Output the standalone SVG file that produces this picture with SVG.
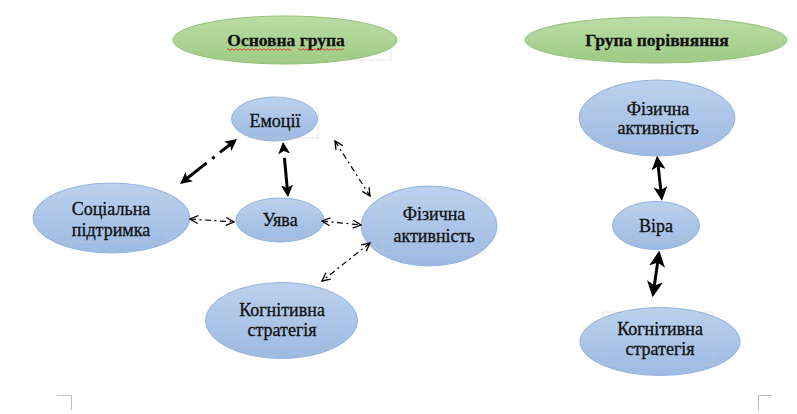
<svg xmlns="http://www.w3.org/2000/svg" width="797" height="414" viewBox="0 0 797 414">
<style>
.bl{fill:url(#gb);stroke:#93b3dd;stroke-width:1}
.gr{fill:url(#gg);stroke:#92c077;stroke-width:1}
.tb{fill:none;stroke:#cfc6b8;stroke-width:0.7;opacity:0.6}
.t{font-family:'Liberation Serif',serif;font-size:18px;fill:#111;stroke:#111;stroke-width:0.3;text-anchor:middle}
.h{font-weight:bold;font-size:17.5px}
.thick{fill:none;stroke:#000;stroke-width:3}
.thin{fill:none;stroke:#000;stroke-width:1.2;stroke-dasharray:6 3.5 2 3.5}
.corner{fill:none;stroke:#bdbdbd;stroke-width:1}
</style>
<defs>
<linearGradient id="gb" x1="0" y1="0" x2="0" y2="1">
<stop offset="0" stop-color="#bbd1ee"/>
<stop offset="1" stop-color="#9dbae2"/>
</linearGradient>
<linearGradient id="gg" x1="0" y1="0" x2="0" y2="1">
<stop offset="0" stop-color="#bcdca7"/>
<stop offset="1" stop-color="#9dcb82"/>
</linearGradient>
<marker id="ah12" viewBox="0 0 12 12" markerWidth="12" markerHeight="12" refX="6" refY="6" orient="auto-start-reverse" markerUnits="userSpaceOnUse">
<path d="M0,0 L12,6 L0,12 L3,6 z" fill="#000"/>
</marker>
<marker id="ah14" viewBox="0 0 14 14" markerWidth="14" markerHeight="14" refX="7" refY="7" orient="auto-start-reverse" markerUnits="userSpaceOnUse">
<path d="M0,0 L14,7 L0,14 L3.5,7 z" fill="#000"/>
</marker>
<marker id="ah16" viewBox="0 0 16 16" markerWidth="16" markerHeight="16" refX="8" refY="8" orient="auto-start-reverse" markerUnits="userSpaceOnUse">
<path d="M0,0 L16,8 L0,16 L4,8 z" fill="#000"/>
</marker>
<marker id="open" viewBox="0 0 10 10" markerWidth="10" markerHeight="10" refX="9" refY="5" orient="auto-start-reverse" markerUnits="userSpaceOnUse">
<path d="M1,1 L9,5 L1,9" fill="none" stroke="#000" stroke-width="1.3"/>
</marker>
</defs>
<rect width="797" height="414" fill="#fff"/>

<g id="title-main">
<ellipse class="gr" cx="285" cy="40" rx="112" ry="24"/>
<rect class="tb" x="208" y="27" width="183" height="33"/>
<text class="t h" x="286" y="46">Основна група</text>
<path d="M227,49.5 q1,-1.5 2,0 t2,0 t2,0 t2,0 t2,0 t2,0 t2,0 t2,0 t2,0 t2,0 t2,0 t2,0 t2,0 t2,0 t2,0 t2,0 t2,0 t2,0 t2,0 t2,0 t2,0 t2,0 t2,0 t2,0 t2,0 t2,0 t2,0 t2,0 t2,0 t2,0 t2,0 t2,0 M298,49.5 q1,-1.5 2,0 t2,0 t2,0 t2,0 t2,0 t2,0 t2,0 t2,0 t2,0 t2,0 t2,0 t2,0 t2,0 t2,0 t2,0 t2,0 t2,0 t2,0 t2,0 t2,0 t2,0 t2,0 t2,0" fill="none" stroke="#d9342b" stroke-width="0.9"/>
</g>

<g id="title-compare">
<ellipse class="gr" cx="656" cy="40" rx="131" ry="23"/>
<rect class="tb" x="568" y="28" width="180" height="32"/>
<text class="t h" x="657" y="46">Група порівняння</text>
</g>

<g id="emotions">
<ellipse class="bl" cx="274.5" cy="119" rx="43" ry="22"/>
<rect class="tb" x="248" y="108" width="70" height="30"/>
<text class="t" x="275" y="127">Емоції</text>
</g>

<g id="social">
<ellipse class="bl" cx="111.5" cy="218" rx="78.5" ry="35"/>
<rect class="tb" x="56" y="194" width="111" height="48"/>
<text class="t" x="111" y="215">Соціальна</text>
<text class="t" x="111" y="236">підтримка</text>
</g>

<g id="imagination">
<ellipse class="bl" cx="280" cy="220" rx="44" ry="22"/>
<rect class="tb" x="248" y="203" width="62" height="36"/>
<text class="t" x="280" y="226">Уява</text>
</g>

<g id="physical-main">
<ellipse class="bl" cx="429" cy="226" rx="68" ry="40"/>
<rect class="tb" x="383" y="198" width="102" height="55"/>
<text class="t" x="434" y="220">Фізична</text>
<text class="t" x="434" y="242">активність</text>
</g>

<g id="cognitive-main">
<ellipse class="bl" cx="281.5" cy="320.5" rx="76" ry="38"/>
<rect class="tb" x="229" y="293" width="105" height="55"/>
<text class="t" x="282" y="316">Когнітивна</text>
<text class="t" x="282" y="336">стратегія</text>
</g>

<g id="physical-compare">
<ellipse class="bl" cx="657" cy="118" rx="78" ry="38"/>
<rect class="tb" x="603" y="91" width="109" height="52"/>
<text class="t" x="658" y="115">Фізична</text>
<text class="t" x="658" y="134">активність</text>
</g>

<g id="faith">
<ellipse class="bl" cx="656" cy="225.5" rx="43.5" ry="24"/>
<rect class="tb" x="627" y="210" width="60" height="30"/>
<text class="t" x="656" y="232">Віра</text>
</g>

<g id="cognitive-compare">
<ellipse class="bl" cx="660" cy="341.5" rx="80" ry="34"/>
<rect class="tb" x="603" y="312" width="110" height="53"/>
<text class="t" x="660" y="335">Когнітивна</text>
<text class="t" x="660" y="355">стратегія</text>
</g>

<g id="connectors">
<path class="thick" d="M184.7,180.3 L232.3,142.7" stroke-dasharray="28 7 3 7 60" marker-start="url(#ah12)" marker-end="url(#ah12)"/>
<path class="thick" d="M283.5,148 L287.5,191" stroke-dasharray="0 10 100" marker-start="url(#ah12)" marker-end="url(#ah12)"/>
<path class="thin" d="M335,141 L370,196" marker-start="url(#open)" marker-end="url(#open)"/>
<path class="thin" d="M190,219 L234,222" marker-start="url(#open)" marker-end="url(#open)"/>
<path class="thin" d="M322,221 L361,225" marker-start="url(#open)" marker-end="url(#open)"/>
<path class="thin" d="M370,243 L322,281" marker-start="url(#open)" marker-end="url(#open)"/>
<path class="thick" d="M657.8,162.7 L661.2,193.7" stroke-width="3.5" marker-start="url(#ah14)" marker-end="url(#ah14)"/>
<path class="thick" d="M658.2,258.6 L653.8,289.4" stroke-width="5" marker-start="url(#ah16)" marker-end="url(#ah16)"/>
</g>

<g id="page-corners">
<path class="corner" d="M57,395.5 H71.5 V410"/>
<path class="corner" d="M772,395.5 H758.5 V410"/>
</g>
</svg>
